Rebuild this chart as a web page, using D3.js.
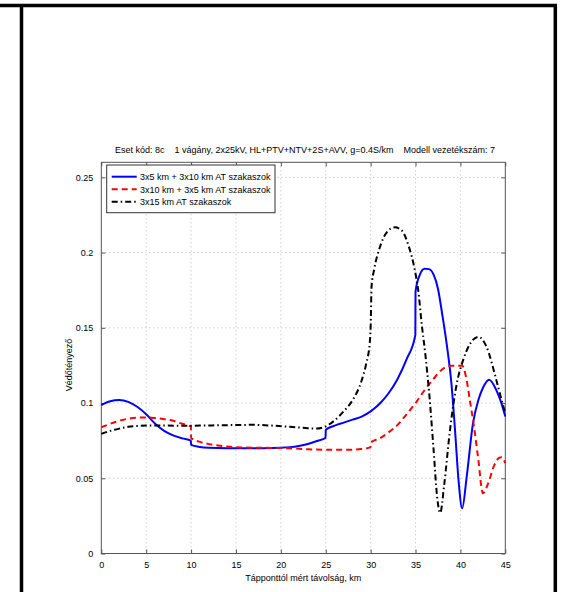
<!DOCTYPE html>
<html><head><meta charset="utf-8">
<script src="https://cdn.jsdelivr.net/npm/d3@7"></script>
<style>
body{margin:0;background:#fff;}
svg{display:block;}
text{font-family:"Liberation Sans",Arial,Helvetica,sans-serif;font-size:9px;fill:#000;}
</style></head>
<body>
<svg id="chart" width="561" height="592"></svg>
<script>
// ---- data ----
const titleText = "Eset kód: 8c    1 vágány, 2x25kV, HL+PTV+NTV+2S+AVV, g=0.4S/km    Modell vezetékszám: 7";
const xLabel = "Tápponttól mért távolság, km";
const yLabel = "Védőtényező";
const seriesNames = ["3x5 km + 3x10 km AT szakaszok", "3x10 km + 3x5 km AT szakaszok", "3x15 km AT szakaszok"];
const xTicks = [0,5,10,15,20,25,30,35,40,45];
const yTicks = [0,0.05,0.1,0.15,0.2,0.25];

const blueX = [0,1,2,3,4,5,6,7,8,9,9.98,10,11,12,14,16,18,20,21,22,23,24,24.98,25,26,27,28,29,30,31,32,33,34,34.98,35,35.5,36,36.5,37,37.5,38,38.5,39,39.4,39.8,40.2,40.7,41.4,42,42.5,43.2,44,44.5,45];
const blueY = [0.0987,0.1012,0.102,0.1008,0.0975,0.0925,0.0862,0.0815,0.0785,0.0765,0.075,0.0722,0.0708,0.0703,0.07,0.07,0.07,0.0703,0.0707,0.0715,0.0728,0.0748,0.0768,0.0822,0.085,0.087,0.089,0.091,0.0945,0.0995,0.1065,0.116,0.129,0.1453,0.174,0.1855,0.1893,0.189,0.1855,0.176,0.158,0.138,0.113,0.082,0.048,0.030,0.051,0.0865,0.102,0.110,0.1155,0.1086,0.101,0.091];

const redX = [0,1,2,3,4,5,6,7,8,9,9.98,10,11,12,13,14,15,17,19,21,23,25,27,29,29.98,30,31,32,33,34,35,36,37,38,39,40.2,40.7,41.1,41.5,42,42.5,43.1,43.7,44.3,44.6,45];
const redY = [0.0839,0.0862,0.0882,0.0896,0.0903,0.0904,0.09,0.0893,0.0882,0.0862,0.0843,0.0768,0.0742,0.0727,0.0718,0.0711,0.0706,0.0703,0.0702,0.0699,0.0693,0.0689,0.0689,0.0695,0.0705,0.0737,0.0765,0.0805,0.0855,0.0925,0.1,0.1085,0.116,0.1225,0.1248,0.1248,0.115,0.1,0.085,0.0622,0.04,0.0467,0.0577,0.0635,0.064,0.06];

const blackX = [0,1,2,3,4,5,7,9,11,13,15,17,19,21,23,24,25,26,27,28,29,29.5,29.9,30,30.1,30.4,31,31.8,32.7,33.5,34.2,34.9,35.3,35.7,36.1,36.5,37,37.4,37.75,38.2,38.8,39.6,40.3,41.1,42,42.9,44,44.5,45];
const blackY = [0.0795,0.0815,0.083,0.0842,0.0848,0.085,0.085,0.0849,0.085,0.0852,0.0854,0.0855,0.085,0.0842,0.0833,0.083,0.0845,0.0885,0.0945,0.102,0.115,0.126,0.14,0.15,0.177,0.189,0.203,0.2135,0.2168,0.2145,0.205,0.189,0.175,0.152,0.132,0.108,0.07,0.038,0.027,0.046,0.08,0.113,0.1285,0.1396,0.144,0.1374,0.1153,0.104,0.093];

// ---- layout ----
const svg = d3.select("#chart");
const L = 101.3, R = 505.3, T = 162.3, B = 553.5;
const x = d3.scaleLinear().domain([0,45]).range([L,R]);
const y = d3.scaleLinear().domain([0,0.26]).range([B,T]);

// outer frame (table-like borders)
svg.append("line").attr("x1",0).attr("x2",557).attr("y1",5.5).attr("y2",5.5).attr("stroke","#000").attr("stroke-width",3.5);
svg.append("line").attr("x1",21.5).attr("x2",21.5).attr("y1",4).attr("y2",592).attr("stroke","#000").attr("stroke-width",3.5);
svg.append("line").attr("x1",555.3).attr("x2",555.3).attr("y1",4).attr("y2",592).attr("stroke","#000").attr("stroke-width",3.5);

// grid
const grid = svg.append("g");
grid.selectAll(".gx").data(xTicks.slice(1,-1)).join("line")
  .attr("x1",d=>x(d)).attr("x2",d=>x(d)).attr("y1",T).attr("y2",B)
  .attr("stroke","#aaa").attr("stroke-width",0.8).attr("stroke-dasharray","1,3");
grid.selectAll(".gy").data(yTicks.slice(1)).join("line")
  .attr("x1",L).attr("x2",R).attr("y1",d=>y(d)).attr("y2",d=>y(d))
  .attr("stroke","#aaa").attr("stroke-width",0.8).attr("stroke-dasharray","1,3");

// axes with inward ticks
const axCol = "#555";
const gxB = svg.append("g").attr("transform",`translate(0,${B})`)
  .call(d3.axisBottom(x).tickValues(xTicks).tickSize(-4).tickPadding(8).tickFormat(d3.format("d")));
const gxT = svg.append("g").attr("transform",`translate(0,${T})`)
  .call(d3.axisTop(x).tickValues(xTicks).tickSize(-4).tickFormat(""));
const gyL = svg.append("g").attr("transform",`translate(${L},0)`)
  .call(d3.axisLeft(y).tickValues(yTicks).tickSize(-4).tickPadding(8).tickFormat(d=>d===0?"0":String(d)));
const gyR = svg.append("g").attr("transform",`translate(${R},0)`)
  .call(d3.axisRight(y).tickValues(yTicks).tickSize(-4).tickFormat(""));
[gxB,gxT,gyL,gyR].forEach(g=>{
  g.select(".domain").remove();
  g.selectAll(".tick line").attr("stroke",axCol);
  g.selectAll("text").style("font-family","'Liberation Sans',Arial,sans-serif").style("font-size","9px").attr("fill","#000");
});
svg.append("rect").attr("x",L).attr("y",T).attr("width",R-L).attr("height",B-T)
  .attr("fill","none").attr("stroke",axCol).attr("stroke-width",1);

// lines
const line = d3.line().x(d=>x(d[0])).y(d=>y(d[1])).curve(d3.curveMonotoneX);
const series = [
  {xs:blueX, ys:blueY, color:"#0000ff", dash:null},
  {xs:redX, ys:redY, color:"#ff0000", dash:"6,4"},
  {xs:blackX, ys:blackY, color:"#000000", dash:"6,3,1.5,3"}
];
const plot = svg.append("g");
series.forEach(s=>{
  plot.append("path").datum(s.xs.map((v,i)=>[v,s.ys[i]]))
    .attr("d",line).attr("fill","none").attr("stroke",s.color).attr("stroke-width",2)
    .attr("stroke-dasharray",s.dash);
});

// legend
const lg = svg.append("g");
lg.append("rect").attr("x",106.7).attr("y",165).attr("width",168.3).attr("height",47.7)
  .attr("fill","#fff").attr("stroke","#333").attr("stroke-width",1);
const ly = [176.7,189.3,201.7];
series.forEach((s,i)=>{
  lg.append("line").attr("x1",111.7).attr("x2",136.7).attr("y1",ly[i]).attr("y2",ly[i])
    .attr("stroke",s.color).attr("stroke-width",2).attr("stroke-dasharray",s.dash);
  lg.append("text").attr("x",140).attr("y",ly[i]+3.2).text(seriesNames[i]);
});

// title & labels
svg.append("text").attr("x",305).attr("y",153).attr("text-anchor","middle")
  .style("white-space","pre").text(titleText);
svg.append("text").attr("x",303.3).attr("y",581).attr("text-anchor","middle").text(xLabel);
svg.append("text").attr("transform","translate(72,365) rotate(-90)").attr("text-anchor","middle").text(yLabel);
</script>
</body></html>
